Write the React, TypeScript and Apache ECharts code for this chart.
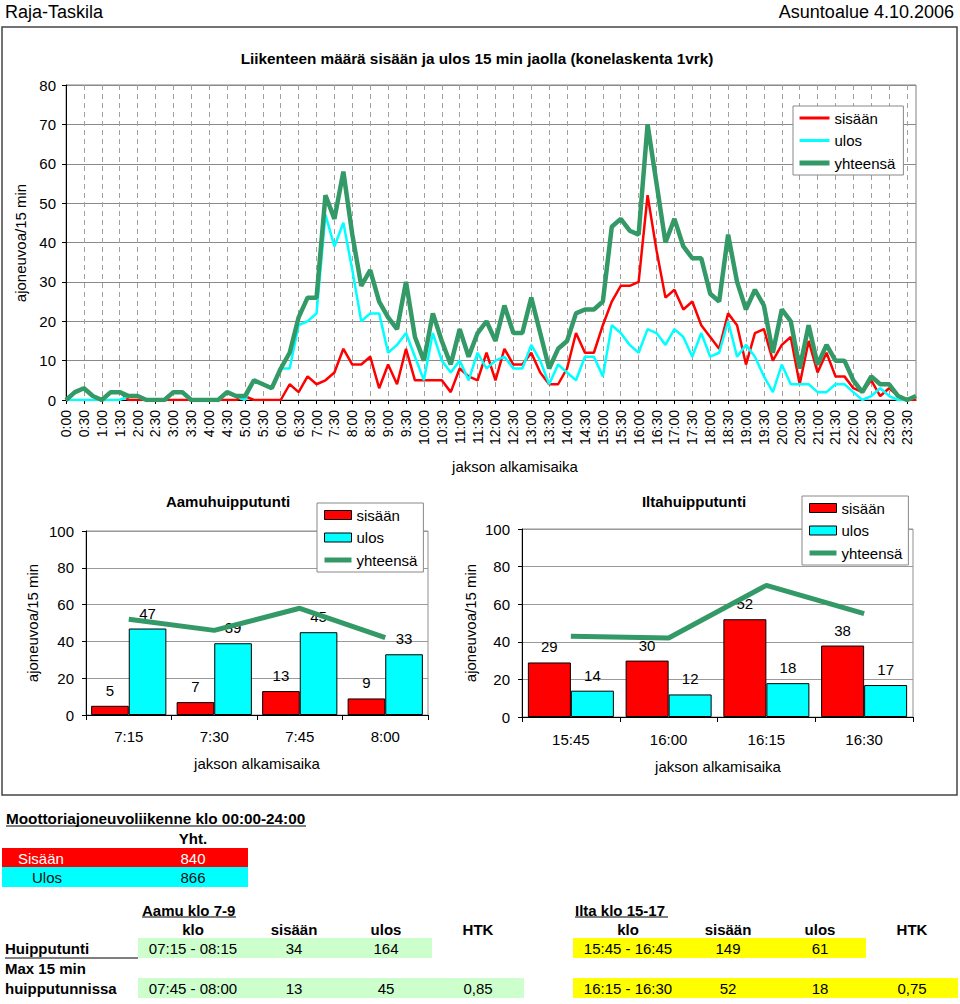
import React, { useEffect, useRef } from "react";
import * as echarts from "echarts";

// ---------- DATA ----------
const times: string[] = [
  "0:00", "0:15", "0:30", "0:45", "1:00", "1:15", "1:30", "1:45",
  "2:00", "2:15", "2:30", "2:45", "3:00", "3:15", "3:30", "3:45",
  "4:00", "4:15", "4:30", "4:45", "5:00", "5:15", "5:30", "5:45",
  "6:00", "6:15", "6:30", "6:45", "7:00", "7:15", "7:30", "7:45",
  "8:00", "8:15", "8:30", "8:45", "9:00", "9:15", "9:30", "9:45",
  "10:00", "10:15", "10:30", "10:45", "11:00", "11:15", "11:30", "11:45",
  "12:00", "12:15", "12:30", "12:45", "13:00", "13:15", "13:30", "13:45",
  "14:00", "14:15", "14:30", "14:45", "15:00", "15:15", "15:30", "15:45",
  "16:00", "16:15", "16:30", "16:45", "17:00", "17:15", "17:30", "17:45",
  "18:00", "18:15", "18:30", "18:45", "19:00", "19:15", "19:30", "19:45",
  "20:00", "20:15", "20:30", "20:45", "21:00", "21:15", "21:30", "21:45",
  "22:00", "22:15", "22:30", "22:45", "23:00", "23:15", "23:30", "23:45",
];

const sisaan: number[] = [
  0, 2, 3, 1, 0, 2, 2, 0, 0, 0, 0, 0, 0, 0, 0, 0,
  0, 0, 0, 0, 1, 0, 0, 0, 0, 4, 2, 6, 4, 5, 7, 13,
  9, 9, 11, 3, 9, 4, 13, 5, 5, 5, 5, 2, 8, 6, 5, 12,
  5, 13, 9, 9, 12, 7, 4, 4, 8, 17, 12, 12, 19, 25, 29, 29,
  30, 52, 38, 26, 28, 23, 25, 19, 16, 13, 22, 19, 9, 17, 18, 10,
  14, 16, 4, 15, 7, 12, 6, 6, 3, 2, 5, 1, 3, 1, 0, 0,
];

const ulos: number[] = [
  0, 0, 0, 0, 0, 0, 0, 1, 1, 0, 0, 0, 2, 2, 0, 0,
  0, 0, 2, 1, 0, 5, 4, 3, 8, 8, 19, 20, 22, 47, 39, 45,
  33, 20, 22, 22, 12, 14, 17, 11, 5, 17, 10, 7, 10, 5, 12, 8,
  10, 11, 8, 8, 14, 10, 4, 9, 7, 5, 11, 11, 6, 19, 17, 14,
  12, 18, 17, 14, 18, 16, 11, 17, 11, 12, 20, 11, 14, 11, 6, 2,
  9, 4, 4, 4, 2, 2, 4, 4, 2, 0, 1, 3, 1, 0, 0, 1,
];

const yhteensa: number[] = [
  0, 2, 3, 1, 0, 2, 2, 1, 1, 0, 0, 0, 2, 2, 0, 0,
  0, 0, 2, 1, 1, 5, 4, 3, 8, 12, 21, 26, 26, 52, 46, 58,
  42, 29, 33, 25, 21, 18, 30, 16, 10, 22, 15, 9, 18, 11, 17, 20,
  15, 24, 17, 17, 26, 17, 8, 13, 15, 22, 23, 23, 25, 44, 46, 43,
  42, 70, 55, 40, 46, 39, 36, 36, 27, 25, 42, 30, 23, 28, 24, 12,
  23, 20, 8, 19, 9, 14, 10, 10, 5, 2, 6, 4, 4, 1, 0, 1,
];

const amCategories = ["7:15", "7:30", "7:45", "8:00"];
const amSisaan = [5, 7, 13, 9];
const amUlos = [47, 39, 45, 33];
const amYhteensa = [52, 46, 58, 42];

const pmCategories = ["15:45", "16:00", "16:15", "16:30"];
const pmSisaan = [29, 30, 52, 38];
const pmUlos = [14, 12, 18, 17];
const pmYhteensa = [43, 42, 70, 55];

const seriesNames = ["sisään", "ulos", "yhteensä"];
const totalLabels = ["Sisään", "Ulos"];
const totalValues = ["840", "866"];
const peakHeaders = ["klo", "sisään", "ulos", "HTK"];
const rowLabels = ["Huipputunti", "Max 15 min", "huipputunnissa"];
const amPeakHour = ["07:15 - 08:15", "34", "164"];
const amPeak15 = ["07:45 - 08:00", "13", "45", "0,85"];
const pmPeakHour = ["15:45 - 16:45", "149", "61"];
const pmPeak15 = ["16:15 - 16:30", "52", "18", "0,75"];

// ---------- STYLE ----------
const FONT = "'Liberation Sans', Arial, Helvetica, sans-serif";
const RED = "#ff0000";
const CYAN = "#00ffff";
const GREEN = "#339966";
const LIGHTGREEN = "#ccffcc";
const YELLOW = "#ffff00";
const NOSYMBOL = { color: "rgba(0,0,0,0)", borderColor: "rgba(0,0,0,0)", borderWidth: 0 };

function txt(text: string, x: number, y: number, opts: any = {}): any {
  return {
    type: "text",
    x,
    y,
    rotation: opts.rotation || 0,
    style: {
      text,
      fill: opts.fill || "#000",
      fontSize: opts.fontSize || 15,
      fontWeight: opts.bold ? "bold" : "normal",
      fontFamily: FONT,
      align: opts.align || "left",
      textAlign: opts.align || "left",
      verticalAlign: "middle",
      textVerticalAlign: "middle",
    },
    z: 10,
  };
}

function rect(x: number, y: number, w: number, h: number, fill: string): any {
  return { type: "rect", shape: { x, y, width: w, height: h }, style: { fill }, z: 5 };
}

function hline(x1: number, x2: number, y: number, w = 1): any {
  return {
    type: "line",
    shape: { x1, y1: y, x2, y2: y },
    style: { stroke: "#000", lineWidth: w },
    z: 10,
  };
}

function barAxisX(gridIndex: number, data: string[], margin: number): any {
  return {
    gridIndex,
    type: "category",
    data,
    axisLine: { lineStyle: { color: "#000" } },
    axisTick: { show: true, length: 5, lineStyle: { color: "#000" } },
    axisLabel: { fontSize: 15, color: "#000", fontFamily: FONT, margin },
  };
}

function barAxisY(gridIndex: number): any {
  return {
    gridIndex,
    type: "value",
    min: 0,
    max: 100,
    interval: 20,
    axisLine: { show: true, lineStyle: { color: "#000" } },
    axisTick: { show: true, length: 4, lineStyle: { color: "#000" } },
    axisLabel: { fontSize: 15, color: "#000", fontFamily: FONT, margin: 12 },
    splitLine: { lineStyle: { color: "#9a9a9a" } },
  };
}

function barSeries(name: string, idx: number, data: number[], color: string): any {
  return {
    type: "bar",
    name,
    xAxisIndex: idx,
    yAxisIndex: idx,
    data,
    barGap: "0%",
    barCategoryGap: "12%",
    itemStyle: { color, borderColor: "#000", borderWidth: 1 },
    label: {
      show: true,
      position: "top",
      distance: 8,
      fontSize: 15,
      color: "#000",
      fontFamily: FONT,
    },
  };
}

function peakLine(idx: number, data: number[]): any {
  return {
    type: "line",
    name: "yhteensä",
    xAxisIndex: idx,
    yAxisIndex: idx,
    data,
    symbol: "none",
    color: GREEN,
    lineStyle: { color: GREEN, width: 5 },
    z: 4,
  };
}

function barLegend(left: number, top: number): any {
  return {
    left,
    top,
    orient: "vertical",
    data: [
      { name: seriesNames[0], icon: "rect", itemStyle: { color: RED, borderColor: "#000", borderWidth: 1 } },
      { name: seriesNames[1], icon: "rect", itemStyle: { color: CYAN, borderColor: "#000", borderWidth: 1 } },
      { name: seriesNames[2], itemStyle: NOSYMBOL, lineStyle: { color: GREEN, width: 5 } },
    ],
    itemWidth: 27,
    itemHeight: 9,
    itemGap: 7.5,
    padding: [4.5, 6, 4.5, 5],
    borderColor: "#888",
    borderWidth: 1,
    backgroundColor: "#fff",
    selectedMode: false,
    textStyle: { fontSize: 15, color: "#000", fontFamily: FONT },
  };
}

function buildOption(): any {
  const leftCols = [193, 294, 386, 478];
  const rightCols = [628, 728, 820, 912];

  const graphics: any[] = [
    // outer frame
    {
      type: "rect",
      shape: { x: 2, y: 27, width: 955, height: 768 },
      style: { fill: "none", stroke: "#444", lineWidth: 1.5 },
      z: 1,
    },
    txt("Raja-Taskila", 5, 12, { fontSize: 18 }),
    txt("Asuntoalue 4.10.2006", 954, 12, { fontSize: 18, align: "right" }),
    txt("Liikenteen määrä sisään ja ulos 15 min jaolla (konelaskenta 1vrk)", 477, 58, { bold: true, align: "center", fontSize: 15.3 }),
    txt("ajoneuvoa/15 min", 20, 243, { rotation: Math.PI / 2, align: "center" }),
    txt("jakson alkamisaika", 515, 466, { align: "center" }),
    txt("Aamuhuipputunti", 228, 501, { bold: true, align: "center" }),
    txt("ajoneuvoa/15 min", 32, 623, { rotation: Math.PI / 2, align: "center" }),
    txt("jakson alkamisaika", 257, 763, { align: "center" }),
    txt("Iltahuipputunti", 694, 501, { bold: true, align: "center" }),
    txt("ajoneuvoa/15 min", 470, 623, { rotation: Math.PI / 2, align: "center" }),
    txt("jakson alkamisaika", 718, 766, { align: "center" }),

    // summary table
    txt("Moottoriajoneuvoliikenne klo 00:00-24:00", 6, 818, { bold: true, fontSize: 15.3 }),
    hline(6, 306, 826),
    txt("Yht.", 193, 838, { bold: true, align: "center" }),
    rect(2, 848, 246, 19, RED),
    rect(2, 867, 246, 20, CYAN),
    txt(totalLabels[0], 18, 858, { fill: "#fff" }),
    txt(totalValues[0], 193, 858, { fill: "#fff", align: "center" }),
    txt(totalLabels[1], 32, 877, { fill: "#111" }),
    txt(totalValues[1], 193, 877, { fill: "#111", align: "center" }),

    txt("Aamu klo 7-9", 142, 910, { bold: true }),
    hline(142, 236, 917),
    txt("Ilta klo 15-17", 575, 910, { bold: true }),
    hline(575, 668, 917),

    rect(138, 938, 294, 20, LIGHTGREEN),
    rect(138, 978, 386, 20, LIGHTGREEN),
    rect(573, 938, 293, 20, YELLOW),
    rect(573, 978, 385, 20, YELLOW),

    txt(rowLabels[0], 5, 948, { bold: true }),
    hline(5, 138, 958),
    txt(rowLabels[1], 5, 968, { bold: true }),
    txt(rowLabels[2], 5, 988, { bold: true }),
  ];

  peakHeaders.forEach((h, i) => {
    graphics.push(txt(h, leftCols[i], 929, { bold: true, align: "center" }));
    graphics.push(txt(h, rightCols[i], 929, { bold: true, align: "center" }));
  });
  amPeakHour.forEach((v, i) => graphics.push(txt(v, leftCols[i], 948, { align: "center" })));
  amPeak15.forEach((v, i) => graphics.push(txt(v, leftCols[i], 988, { align: "center" })));
  pmPeakHour.forEach((v, i) => graphics.push(txt(v, rightCols[i], 948, { align: "center" })));
  pmPeak15.forEach((v, i) => graphics.push(txt(v, rightCols[i], 988, { align: "center" })));

  return {
    animation: false,
    backgroundColor: "#fff",
    textStyle: { fontFamily: FONT },
    grid: [
      { left: 66, top: 85, width: 850, height: 315, show: true, borderColor: "#808080", borderWidth: 1 },
      { left: 86, top: 531, width: 342, height: 184, show: true, borderColor: "#909090", borderWidth: 1 },
      { left: 522, top: 529, width: 391, height: 188, show: true, borderColor: "#909090", borderWidth: 1 },
    ],
    legend: [
      {
        left: 793,
        top: 106,
        orient: "vertical",
        data: [
          { name: seriesNames[0], itemStyle: NOSYMBOL, lineStyle: { color: RED, width: 3 } },
          { name: seriesNames[1], itemStyle: NOSYMBOL, lineStyle: { color: CYAN, width: 3 } },
          { name: seriesNames[2], itemStyle: NOSYMBOL, lineStyle: { color: GREEN, width: 5 } },
        ],
        itemWidth: 30,
        itemHeight: 14,
        itemGap: 7.5,
        padding: [4.5, 8, 4.5, 4],
        borderColor: "#888",
        borderWidth: 1,
        backgroundColor: "#fff",
        selectedMode: false,
        textStyle: { fontSize: 15, color: "#000", fontFamily: FONT },
      },
      barLegend(317, 503),
      barLegend(802, 496),
    ],
    xAxis: [
      {
        gridIndex: 0,
        type: "category",
        data: times,
        boundaryGap: false,
        axisLine: { lineStyle: { color: "#000" } },
        axisTick: { show: true, interval: 1, length: 4, lineStyle: { color: "#000" } },
        axisLabel: { interval: 1, rotate: 90, fontSize: 14, color: "#000", fontFamily: FONT, margin: 10 },
        splitLine: { show: true, interval: 1, lineStyle: { color: "#a0a0a0", type: [5, 4] } },
      },
      barAxisX(1, amCategories, 14),
      barAxisX(2, pmCategories, 15),
    ],
    yAxis: [
      {
        gridIndex: 0,
        type: "value",
        min: 0,
        max: 80,
        interval: 10,
        axisLine: { show: true, lineStyle: { color: "#000" } },
        axisTick: { show: true, length: 4, lineStyle: { color: "#000" } },
        axisLabel: { fontSize: 15, color: "#000", fontFamily: FONT, margin: 10 },
        splitLine: { lineStyle: { color: "#8a8a8a" } },
      },
      barAxisY(1),
      barAxisY(2),
    ],
    series: [
      {
        type: "line",
        name: seriesNames[0],
        xAxisIndex: 0,
        yAxisIndex: 0,
        data: sisaan,
        symbol: "none",
        color: RED,
        lineStyle: { color: RED, width: 2.5 },
      },
      {
        type: "line",
        name: seriesNames[1],
        xAxisIndex: 0,
        yAxisIndex: 0,
        data: ulos,
        symbol: "none",
        color: CYAN,
        lineStyle: { color: CYAN, width: 2.5 },
      },
      {
        type: "line",
        name: seriesNames[2],
        xAxisIndex: 0,
        yAxisIndex: 0,
        data: yhteensa,
        symbol: "none",
        color: GREEN,
        lineStyle: { color: GREEN, width: 4.5 },
      },
      barSeries(seriesNames[0], 1, amSisaan, RED),
      barSeries(seriesNames[1], 1, amUlos, CYAN),
      peakLine(1, amYhteensa),
      barSeries(seriesNames[0], 2, pmSisaan, RED),
      barSeries(seriesNames[1], 2, pmUlos, CYAN),
      peakLine(2, pmYhteensa),
    ],
    graphic: { elements: graphics },
  };
}

export default function App() {
  const ref = useRef<HTMLDivElement>(null);
  useEffect(() => {
    if (!ref.current) return;
    const chart = echarts.init(ref.current, null, { renderer: "svg" });
    chart.setOption(buildOption());
    return () => chart.dispose();
  }, []);
  return (
    <div
      ref={ref}
      style={{ position: "absolute", left: 0, top: 0, width: 960, height: 1004, background: "#fff" }}
    />
  );
}
